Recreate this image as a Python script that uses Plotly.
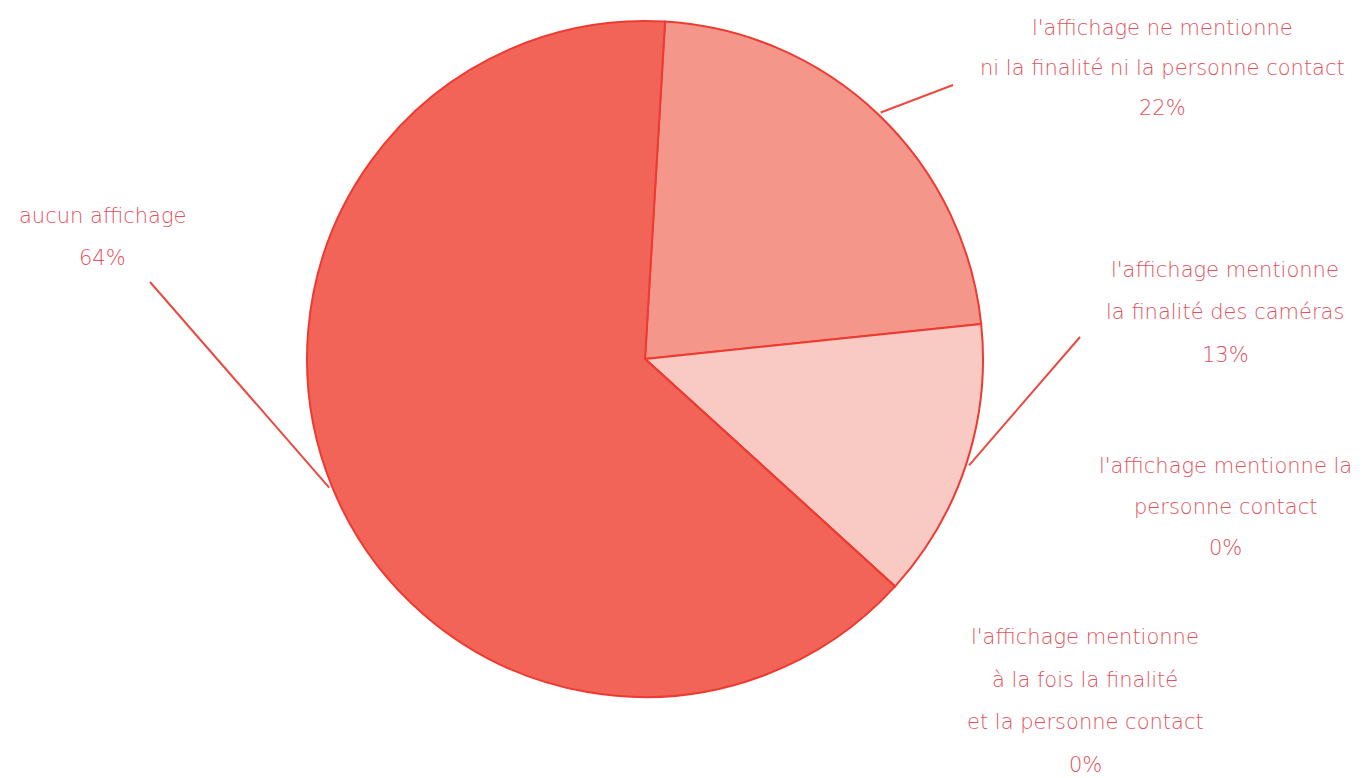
import math
import plotly.graph_objects as go

# ---- data ----
categories = [
    "l'affichage ne mentionne ni la finalité ni la personne contact",
    "l'affichage mentionne la finalité des caméras",
    "l'affichage mentionne la personne contact",
    "l'affichage mentionne à la fois la finalité et la personne contact",
    "aucun affichage",
]
values = [22.4, 13.4, 0.0, 0.0, 64.2]
label_lines = [
    ["l'affichage ne mentionne", "ni la finalité ni la personne contact"],
    ["l'affichage mentionne", "la finalité des caméras"],
    ["l'affichage mentionne la", "personne contact"],
    ["l'affichage mentionne", "à la fois la finalité", "et la personne contact"],
    ["aucun affichage"],
]
slice_colors = ["#F5968B", "#F9C9C4", "#F7B0A8", "#F7B0A8", "#F26358"]

# ---- layout constants ----
W, H = 1365, 778
M_T, M_B = 21, 81
CX, CY, R = 645, 359, 338
ROTATION = 3.4
TEXT_COLOR = "#E2525C"
LINE_COLOR = "#EA4A40"
FONT = "DejaVu Sans"

# label placement (center x, first line y, line step) in pixels
label_pos = [
    (1162, 28, 40),
    (1225, 270, 42.5),
    (1225, 466, 41),
    (1085, 637, 42.5),
    (102, 216, 42),
]
# leader line outer ends (pixels); None = no line
leader_end = [(953, 85), (1080, 337), None, None, (150, 282)]


def px(x):
    return x / W


def py(y):
    return (H - M_B - y) / (H - M_T - M_B)


fig = go.Figure(
    go.Pie(
        labels=categories,
        values=values,
        sort=False,
        direction="clockwise",
        rotation=ROTATION,
        textinfo="none",
        hoverinfo="label+percent",
        marker=dict(colors=slice_colors, line=dict(color="#EE3B31", width=2)),
        domain=dict(x=[(CX - 400) / W, (CX + 400) / W], y=[0, 1]),
        showlegend=False,
    )
)

total = sum(values)
annotations = []
shapes = []
cum = 0.0
for i, v in enumerate(values):
    start = ROTATION + cum / total * 360
    cum += v
    end = ROTATION + cum / total * 360
    mid = math.radians((start + end) / 2)
    lx, ly0, step = label_pos[i]
    lines = label_lines[i] + [f"{round(v / total * 100)}%"]
    for k, t in enumerate(lines):
        annotations.append(
            dict(
                x=px(lx), y=py(ly0 + k * step), xref="paper", yref="paper",
                text=t, showarrow=False, xanchor="center", yanchor="middle",
                font=dict(family=FONT, size=21, color=TEXT_COLOR, weight=300),
            )
        )
    if leader_end[i] is not None and v > 0:
        sx = CX + (R + 3) * math.sin(mid)
        sy = CY - (R + 3) * math.cos(mid)
        ex, ey = leader_end[i]
        shapes.append(
            dict(type="line", xref="paper", yref="paper",
                 x0=px(sx), y0=py(sy), x1=px(ex), y1=py(ey),
                 line=dict(color=LINE_COLOR, width=2))
        )

fig.update_layout(
    width=W, height=H,
    margin=dict(l=0, r=0, t=M_T, b=M_B),
    paper_bgcolor="white", plot_bgcolor="white",
    annotations=annotations, shapes=shapes,
)

fig.write_html(
    "out.html",
    config={"displayModeBar": False},
    post_script="document.body.style.margin='0';document.body.style.overflow='hidden';",
)
